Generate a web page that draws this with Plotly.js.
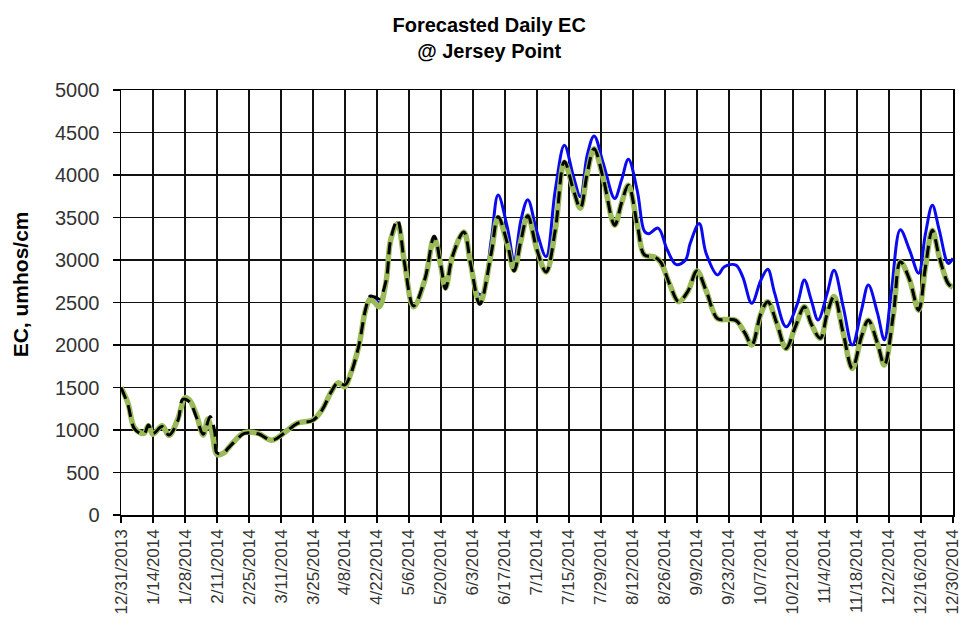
<!DOCTYPE html>
<html>
<head>
<meta charset="utf-8">
<script src="https://cdn.plot.ly/plotly-3.0.1.min.js"></script>
<style>
  html, body { margin: 0; padding: 0; background: #fff; }
  #chart { width: 963px; height: 619px; }
</style>
</head>
<body>
<div id="chart"></div>
<script>
// ---- Data ----
// Day offsets from 12/31/2013
const greenDays = [0,3,6,10,12,14,18,21,25,28,30,33,36,38,40,42,45,47,50,54,60,66,72,77,84,88,92,95,98,100,104,107,109,111,113,116,118,121,124,128,133,137,140,142,145,150,153,157,162,165,169,172,175,178,182,186,190,194,198,201,204,207,211,216,219,222,226,229,233,236,240,244,248,252,256,261,265,269,273,276,280,283,287,291,295,299,302,306,309,312,316,320,324,327,331,334,338,341,345,349,352,355,358,362,364];
const greenValues = [1500,1320,1020,960,1050,950,1050,935,1140,1380,1350,1180,940,1130,950,710,730,790,880,970,960,880,980,1080,1120,1240,1450,1555,1510,1625,1980,2410,2540,2500,2450,2750,3235,3430,2980,2450,2770,3260,2920,2670,3040,3330,2950,2490,3080,3500,3190,2880,3230,3520,3120,2860,3350,4150,3820,3610,4020,4310,3960,3410,3670,3880,3400,3060,3040,2980,2720,2510,2630,2870,2640,2310,2300,2290,2140,2000,2370,2510,2250,1960,2210,2450,2250,2080,2370,2570,2140,1725,2100,2290,2020,1765,2370,2980,2770,2410,2920,3350,3040,2720,2680];

const blackDays = [0,3,6,10,12,14,18,21,25,27,30,33,36,39,41,42,45,47,50,54,60,66,72,77,84,88,92,95,98,100,104,107,109,111,113,116,118,121,124,128,133,137,140,142,145,150,153,157,162,165,169,172,175,178,182,186,190,194,198,201,204,207,211,216,219,222,226,229,233,236,240,244,248,252,256,261,265,269,273,276,280,283,287,291,295,299,302,306,309,312,316,320,324,327,331,334,338,341,345,349,352,355,358,362,364];
const blackValues = [1500,1300,1010,950,1060,960,1040,940,1120,1360,1330,1150,950,1160,980,730,735,790,870,960,955,880,975,1075,1115,1235,1450,1560,1530,1620,1985,2420,2575,2565,2545,2760,3240,3470,2970,2460,2780,3280,2930,2660,3040,3330,2950,2480,3080,3510,3200,2870,3230,3520,3120,2860,3350,4160,3820,3610,4020,4310,3960,3410,3670,3880,3400,3060,3040,2980,2720,2510,2630,2870,2640,2310,2300,2290,2140,2000,2370,2510,2250,1960,2210,2450,2250,2080,2370,2570,2140,1725,2100,2290,2020,1765,2370,2980,2770,2410,2920,3350,3040,2720,2680];

const blueDays = [0,3,6,10,12,14,18,21,25,28,30,33,36,38,40,42,45,47,50,54,60,66,72,77,84,88,92,95,98,100,104,107,109,111,113,116,118,121,124,128,133,137,140,142,145,150,153,156,158,162,165,169,172,175,178,182,186,190,194,198,201,204,207,211,216,219,222,226,229,231,235,239,243,247,249,253,256,261,264,269,272,276,280,283,286,291,296,299,302,305,309,312,316,320,324,327,331,334,337,341,345,349,352,355,358,362,364];
const blueValues = [1500,1320,1020,960,1050,950,1050,935,1140,1380,1350,1180,940,1130,950,710,730,790,880,970,960,880,980,1080,1120,1240,1450,1555,1510,1625,1980,2410,2560,2540,2500,2750,3235,3440,2980,2450,2770,3280,2920,2670,3040,3330,2950,2610,2600,3235,3765,3390,3000,3470,3710,3330,3040,3820,4350,3980,3745,4235,4460,4140,3725,3940,4185,3800,3340,3310,3375,3120,2945,3000,3190,3430,3080,2825,2920,2940,2805,2490,2765,2890,2610,2215,2490,2765,2530,2295,2610,2880,2450,2000,2410,2705,2375,2060,2610,3355,3120,2845,3310,3645,3355,2960,3020];

const tickDays = [0,14,28,42,56,70,84,98,112,126,140,154,168,182,196,210,224,238,252,266,280,294,308,322,336,350,364];
const yTickValues = [0,500,1000,1500,2000,2500,3000,3500,4000,4500,5000];
const chartTitle = 'Forecasted Daily EC<br>@ Jersey Point';
const yTitle = 'EC, umhos/cm';

// ---- helpers ----
function dayToDate(d) {
  const base = Date.UTC(2013, 11, 31);
  const t = new Date(base + d * 86400000);
  const mm = String(t.getUTCMonth() + 1).padStart(2, '0');
  const dd = String(t.getUTCDate()).padStart(2, '0');
  return t.getUTCFullYear() + '-' + mm + '-' + dd;
}
function dayToLabel(d) {
  const t = new Date(Date.UTC(2013, 11, 31) + d * 86400000);
  return (t.getUTCMonth() + 1) + '/' + t.getUTCDate() + '/' + t.getUTCFullYear();
}

const FONT = '"Liberation Sans", Arial, sans-serif';

const traces = [
  { x: blueDays.map(dayToDate), y: blueValues, type: 'scatter', mode: 'lines',
    line: { color: '#0a0af0', width: 3, shape: 'spline', smoothing: 1 }, hoverinfo: 'skip' },
  { x: greenDays.map(dayToDate), y: greenValues, type: 'scatter', mode: 'lines',
    line: { color: '#9bbb59', width: 5.5, shape: 'spline', smoothing: 1 }, hoverinfo: 'skip' },
  { x: blackDays.map(dayToDate), y: blackValues, type: 'scatter', mode: 'lines',
    line: { color: '#000000', width: 3, dash: '12px,7px', shape: 'spline', smoothing: 1 }, hoverinfo: 'skip' }
];

const layout = {
  width: 963, height: 619,
  margin: { l: 121, r: 10, t: 90, b: 104 },
  paper_bgcolor: '#ffffff', plot_bgcolor: '#ffffff',
  showlegend: false,
  font: { family: FONT, color: '#000' },
  title: {
    text: chartTitle,
    font: { family: FONT, size: 20, color: '#000', weight: 'bold' },
    xref: 'container', x: 0.508, xanchor: 'center',
    yref: 'container', y: 0.948, yanchor: 'top'
  },
  xaxis: {
    type: 'date',
    range: [dayToDate(0), dayToDate(364) + ' 01:00'],
    tickvals: tickDays.map(dayToDate),
    ticktext: tickDays.map(dayToLabel),
    tickangle: -90,
    ticklabeloverflow: 'allow',
    tickfont: { family: FONT, size: 17, color: '#333' },
    ticks: 'outside', ticklen: 6, tickcolor: '#000', tickwidth: 1.3,
    showgrid: true, gridcolor: '#111', gridwidth: 1.3,
    showline: true, linecolor: '#000', linewidth: 1.5, mirror: true,
    zeroline: false, fixedrange: true
  },
  yaxis: {
    range: [0, 5000],
    tickvals: yTickValues,
    tickfont: { family: FONT, size: 20, color: '#333' },
    ticks: 'outside', ticklen: 7, tickcolor: '#000', tickwidth: 1.3,
    ticklabelstandoff: 9,
    showgrid: true, gridcolor: '#111', gridwidth: 1.3,
    showline: true, linecolor: '#000', linewidth: 1.5, mirror: true,
    zeroline: false, fixedrange: true
  },
  annotations: [{
    text: yTitle, xref: 'paper', yref: 'paper',
    x: -0.121, y: 0.5435, xanchor: 'center', yanchor: 'middle',
    textangle: -90, showarrow: false,
    font: { family: FONT, size: 21, color: '#000', weight: 'bold' }
  }]
};

Plotly.newPlot('chart', traces, layout, { displayModeBar: false, staticPlot: true });
</script>
</body>
</html>
